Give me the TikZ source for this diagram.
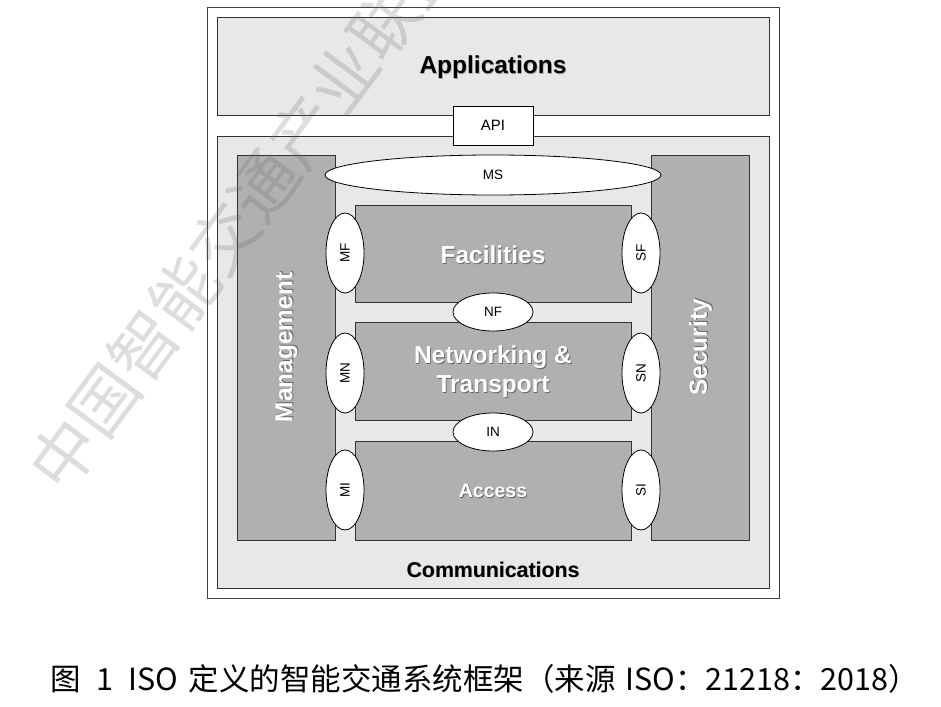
\documentclass[tikz,border=0pt]{standalone}
\usepackage{fontspec}
\setmainfont{Liberation Sans}
\newfontfamily\cjk{Noto Sans CJK SC}
\usetikzlibrary{shapes.geometric}
\definecolor{lightfill}{HTML}{E8E8E8}
\definecolor{darkfill}{HTML}{B0B0B0}
\definecolor{edge}{HTML}{333333}
\newcommand\whsh[1]{\makebox[0pt][l]{\hspace{0.9pt}\raisebox{-0.9pt}{\color{black!60}#1}}{\color{white}#1}}
\newcommand\blsh[1]{\makebox[0pt][l]{\hspace{0.7pt}\raisebox{-0.7pt}{\color{black!35}#1}}{\color{black}#1}}
\newcommand\capsp{\hspace{0.5em}}
\newcommand\capss{\hspace{0.33em}}
\begin{document}
\begin{tikzpicture}[x=1pt,y=-1pt,
  frame/.style={draw=black!75, line width=0.8pt, fill=white, inner sep=0},
  lightbox/.style={draw=edge, line width=0.8pt, fill=lightfill, inner sep=0},
  darkbox/.style={draw=edge, line width=0.8pt, fill=darkfill, inner sep=0, font=\bfseries\fontsize{24.5}{29}\selectfont, align=center},
  ifc/.style={ellipse, draw=black, line width=0.8pt, fill=white, inner sep=0, font=\fontsize{13.5}{14}\selectfont},
  hifc/.style={ifc, minimum width=80, minimum height=38},
  vifc/.style={ifc, minimum width=38, minimum height=80},
  title/.style={font=\bfseries\fontsize{24.5}{29}\selectfont},
  wm/.style={font=\cjk\fontsize{67}{67}\selectfont, text=black!60, opacity=0.22}
]
\useasboundingbox (0,0) rectangle (941,706);
% outer frame
\node[frame, minimum width=572, minimum height=591] (outer) at (493,302.5) {};
% applications
\node[lightbox, minimum width=552, minimum height=98] (apps) at (493,66) {};
\node[title] (appslabel) at (493,68) {\blsh{Applications}};
% communications
\node[lightbox, minimum width=552, minimum height=452] (comm) at (493,362) {};
\node[font=\bfseries\fontsize{21.3}{25}\selectfont] (commlabel) at (493,570) {\blsh{Communications}};
% API
\node[draw=black, line width=0.8pt, fill=white, inner sep=0, minimum width=80, minimum height=39, font=\fontsize{15}{16}\selectfont] (api) at (493,125.5) {API};
% management and security
\node[darkbox, minimum width=98, minimum height=385] (mgmt) at (286,347.5) {};
\node[rotate=90, font=\bfseries\fontsize{24.5}{29}\selectfont] (mgmtlabel) at (287,347.5) {\whsh{Management}};
\node[darkbox, minimum width=98, minimum height=385] (sec) at (700,347.5) {};
\node[rotate=90, font=\bfseries\fontsize{24.5}{29}\selectfont] (seclabel) at (701,347.5) {\whsh{Security}};
% layers
\node[darkbox, minimum width=276, minimum height=97] (fac) at (493,253.5) {};
\node[font=\bfseries\fontsize{24.5}{29}\selectfont] (faclabel) at (493,255) {\whsh{Facilities}};
\node[darkbox, minimum width=276, minimum height=98] (net) at (493,371) {};
\node[font=\bfseries\fontsize{24.5}{29}\selectfont, align=center] (netlabel) at (493,372) {\whsh{Networking \&}\\\whsh{Transport}};
\node[darkbox, minimum width=276, minimum height=99] (acc) at (493,490.5) {};
\node[font=\bfseries\fontsize{19.5}{23}\selectfont] (acclabel) at (493,491) {\whsh{Access}};
% interfaces
\node[ifc, minimum width=336, minimum height=40] (ms) at (493,175) {MS};
\node[hifc] (nf) at (493,312) {NF};
\node[hifc] (in) at (493,432) {IN};
\node[vifc] (mf) at (345,253) {\rotatebox{90}{MF}};
\node[vifc] (mn) at (345,373) {\rotatebox{90}{MN}};
\node[vifc] (mi) at (345,490) {\rotatebox{90}{MI}};
\node[vifc] (sf) at (641,253) {\rotatebox{90}{SF}};
\node[vifc] (sn) at (641,373) {\rotatebox{90}{SN}};
\node[vifc] (si) at (641,490) {\rotatebox{90}{SI}};
% caption
\node[font=\cjk\fontsize{30.5}{31}\selectfont, inner sep=0] (caption) at (485,679) {图\capsp 1\capsp ISO\capss 定义的智能交通系统框架（来源\capss ISO：21218：2018）};
% watermark
\begin{scope}
\clip (0,0) rectangle (941,706);
\node[wm, rotate=53.4, inner sep=0] (watermark) at (244,212) {中国智能交通产业联盟};
\end{scope}
\end{tikzpicture}
\end{document}
